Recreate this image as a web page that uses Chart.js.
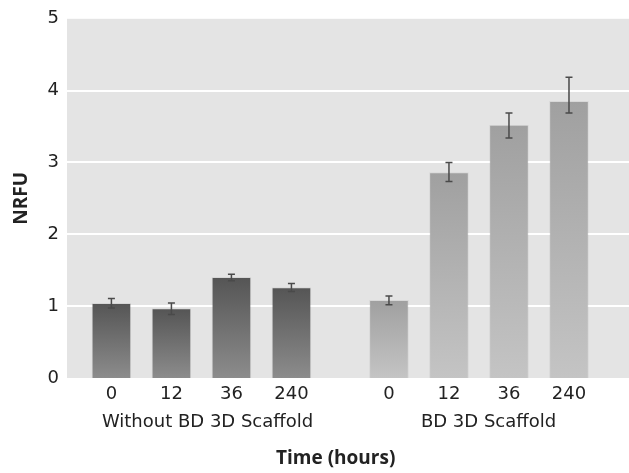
<!DOCTYPE html>
<html>
<head>
<meta charset="utf-8">
<title>NRFU over time</title>
<script src="https://cdn.jsdelivr.net/npm/chart.js@4.4.1/dist/chart.umd.min.js"></script>
<style>
  html, body { margin: 0; padding: 0; background: #fff; }
  #wrap { width: 629px; height: 473px; }
</style>
</head>
<body>
<div id="wrap"><canvas id="nrfuChart" width="629" height="473"></canvas></div>
<script>
// values
const times = ["0", "12", "36", "240"];
const groups = ["Without BD 3D Scaffold", "BD 3D Scaffold"];
const withoutValues = [1.04, 0.965, 1.40, 1.26];
const withoutErrors = [0.065, 0.08, 0.045, 0.055];
const scaffoldValues = [1.08, 2.86, 3.52, 3.85];
const scaffoldErrHigh = [0.06, 0.14, 0.17, 0.335];
const scaffoldErrLow = [0.06, 0.125, 0.18, 0.16];
const yTicks = [0, 1, 2, 3, 4, 5];

(function(){
  const el = document.getElementById("nrfuChart");
  if (!el || typeof Chart === "undefined") return;

  // layout: slots between the two groups, and margins of the x range
  const GROUP_GAP = 1.625;
  const X_PAD_LEFT = 0.74;
  const X_PAD_RIGHT = 1.0;
  const groupOffset = times.length - 1 + GROUP_GAP;
  const xPos = (g, i) => i + g * groupOffset;
  const allPositions = [0, 1].flatMap(g => times.map((t, i) => xPos(g, i)));

  const TICK_FONT = { family: "'DejaVu Sans', sans-serif", size: 18 };
  const TITLE_FONT = { family: "'Open Sans', sans-serif", size: 19, weight: "bold" };

  // per-bar vertical gradient
  function barGradient(top, bottom){
    return (ctx) => {
      const chart = ctx.chart;
      if (!chart.chartArea || !ctx.raw) return bottom;
      const y = chart.scales.y;
      const y0 = y.getPixelForValue(ctx.raw.y);
      const y1 = y.getPixelForValue(0);
      const g = chart.ctx.createLinearGradient(0, y0, 0, y1);
      g.addColorStop(0, top);
      g.addColorStop(1, bottom);
      return g;
    };
  }

  const plotBackground = {
    id: "plotBackground",
    beforeDraw(chart){
      const { ctx, chartArea: a } = chart;
      ctx.save();
      ctx.fillStyle = "#e4e4e4";
      ctx.fillRect(a.left, a.top, a.right - a.left, a.bottom - a.top);
      ctx.restore();
    }
  };

  const errorBars = {
    id: "errorBars",
    afterDatasetsDraw(chart){
      const { ctx } = chart;
      const y = chart.scales.y;
      ctx.save();
      ctx.strokeStyle = "#4a4a4a";
      ctx.lineWidth = 1.5;
      chart.data.datasets.forEach((ds, di) => {
        const meta = chart.getDatasetMeta(di);
        meta.data.forEach((bar, j) => {
          const v = ds.data[j].y;
          const hi = y.getPixelForValue(v + ds.errHigh[j]);
          const lo = y.getPixelForValue(v - ds.errLow[j]);
          const x = bar.x, cap = 3.5;
          ctx.beginPath();
          ctx.moveTo(x, hi); ctx.lineTo(x, lo);
          ctx.moveTo(x - cap, hi); ctx.lineTo(x + cap, hi);
          ctx.moveTo(x - cap, lo); ctx.lineTo(x + cap, lo);
          ctx.stroke();
        });
      });
      ctx.restore();
    }
  };

  new Chart(el, {
    type: "bar",
    data: {
      datasets: [{
        label: groups[0],
        data: times.map((t, i) => ({ x: xPos(0, i), y: withoutValues[i] })),
        errHigh: withoutErrors,
        errLow: withoutErrors,
        backgroundColor: barGradient("#555555", "#8c8c8c"),
        borderColor: "rgba(0,0,0,0.06)",
        borderWidth: 1
      }, {
        label: groups[1],
        data: times.map((t, i) => ({ x: xPos(1, i), y: scaffoldValues[i] })),
        errHigh: scaffoldErrHigh,
        errLow: scaffoldErrLow,
        backgroundColor: barGradient("#a0a0a0", "#c4c4c4"),
        borderColor: "rgba(0,0,0,0.05)",
        borderWidth: 1
      }]
    },
    options: {
      responsive: false,
      animation: false,
      events: [],
      grouped: false,
      barThickness: 39,
      layout: { padding: { top: 16, left: 0, right: 0, bottom: 0 } },
      plugins: { legend: { display: false }, tooltip: { enabled: false } },
      scales: {
        x: {
          type: "linear",
          offset: false,
          min: -X_PAD_LEFT,
          max: allPositions[allPositions.length - 1] + X_PAD_RIGHT,
          weight: 1,
          afterFit: (scale) => { scale.height = 27; },
          grid: { display: false, drawTicks: false },
          border: { display: false },
          afterBuildTicks: (scale) => { scale.ticks = allPositions.map(v => ({ value: v })); },
          ticks: {
            padding: 6,
            color: "#222",
            font: TICK_FONT,
            maxRotation: 0,
            autoSkip: false,
            callback: (value, index) => times[index % times.length]
          }
        },
        x2: {
          type: "category",
          position: "bottom",
          labels: groups,
          offset: true,
          weight: 2,
          afterFit: (scale) => { scale.height = 68; },
          grid: { display: false, drawTicks: false },
          border: { display: false },
          ticks: { padding: 7, color: "#222", font: TICK_FONT, maxRotation: 0, autoSkip: false },
          title: {
            display: true,
            text: "Time (hours)\u00a0\u00a0\u00a0\u00a0\u00a0",
            color: "#222",
            font: TITLE_FONT,
            padding: { top: 14, bottom: 3 }
          }
        },
        y: {
          min: 0,
          max: 5,
          afterFit: (scale) => { scale.width = 67; },
          afterBuildTicks: (scale) => { scale.ticks = yTicks.map(v => ({ value: v })); },
          grid: {
            color: "#ffffff",
            lineWidth: (c) => (c.tick && (c.tick.value === 0 || c.tick.value === 5)) ? 0 : 2,
            drawTicks: false
          },
          border: { display: false },
          ticks: { padding: 8, color: "#222", font: TICK_FONT },
          title: {
            display: true,
            text: "NRFU",
            color: "#222",
            font: TITLE_FONT,
            padding: { top: 10, bottom: 0 }
          }
        }
      }
    },
    plugins: [plotBackground, errorBars]
  });
})();
</script>
</body>
</html>
